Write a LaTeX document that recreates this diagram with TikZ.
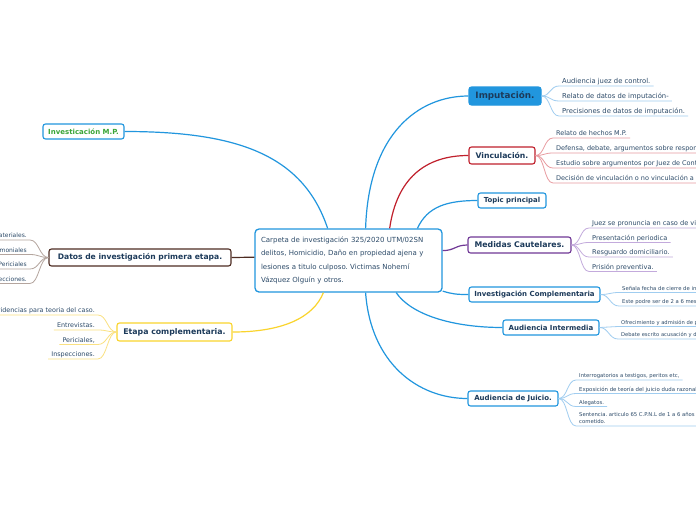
\documentclass[tikz,border=0pt]{standalone}
\usepackage{fontspec}
\setmainfont{DejaVu Sans}
\definecolor{mblue}{RGB}{33,150,222}
\definecolor{lblue}{RGB}{160,205,240}
\definecolor{mred}{RGB}{192,32,44}
\definecolor{lred}{RGB}{232,155,160}
\definecolor{mpurple}{RGB}{112,56,150}
\definecolor{lpurple}{RGB}{195,170,220}
\definecolor{mbrown}{RGB}{78,44,34}
\definecolor{lbrown}{RGB}{180,165,158}
\definecolor{myellow}{RGB}{250,212,45}
\definecolor{lyellow}{RGB}{250,225,130}
\definecolor{mgreen}{RGB}{58,165,55}
\definecolor{navy}{RGB}{28,58,90}
\definecolor{leaftext}{RGB}{45,75,105}
\newcommand\fsz[1]{\fontsize{#1}{#1}\selectfont}
\tikzset{
  topicbox/.style={draw=mblue, rounded corners=2.5pt, line width=1.1pt, fill=white,
    text=navy, inner sep=0pt, align=center},
  maincon/.style={line width=1.2pt},
  leafnode/.style={anchor=south west, inner xsep=3pt, inner ysep=1pt, text depth=1.3pt, text=leaftext},
  leafnodeL/.style={leafnode, anchor=south east},
  leafcon/.style={line width=0.8pt},
}
% name, parent, colour, x, y, text
\newcommand\leafR[6]{%
  \node[leafnode] (#1) at (#4,#5) {#6};
  \draw[leafcon,#3] (#2.east) .. controls +(9,0) and +(-9,0) .. (#1.south west) -- (#1.south east);}
\newcommand\leafL[6]{%
  \node[leafnodeL] (#1) at (#4,#5) {#6};
  \draw[leafcon,#3] (#2.west) .. controls +(-9,0) and +(9,0) .. (#1.south east) -- (#1.south west);}
\frenchspacing
\begin{document}
\frenchspacing
\begin{tikzpicture}[x=1pt,y=-1pt]
\useasboundingbox (0,0) rectangle (696,520);
\clip (0,0) rectangle (696,520);
\fill[white] (0,0) rectangle (696,520);

% central node
\node[draw=mblue, line width=1.3pt, rounded corners=4pt, fill=white,
  minimum width=187pt, minimum height=63pt, text width=175pt, inner xsep=6pt,
  align=left, text=leaftext, font=\fontsize{7}{13.5}\selectfont] (c) at (348.5,260.5)
  {\mbox{Carpeta de investigación 325/2020 UTM/02SN}\\
   \mbox{delitos, Homicidio, Daño en propiedad ajena y}\\
   \mbox{lesiones a titulo culposo. Victimas Nohemí}\\
   \mbox{Vázquez Olguín y otros.}};

% main topics
\node[topicbox, fill=mblue, minimum width=72pt, minimum height=18pt, font=\bfseries\fsz{8.8}] (imp) at (505,96) {Imputación.};
\node[topicbox, draw=mred, minimum width=66pt, minimum height=17pt, font=\bfseries\fsz{7.7}] (vin) at (502,155.5) {Vinculación.};
\node[topicbox, minimum width=68pt, minimum height=15pt, font=\bfseries\fsz{6.9}] (top) at (512,200.5) {Topic principal};
\node[topicbox, draw=mpurple, minimum width=103pt, minimum height=16pt, font=\bfseries\fsz{7.8}] (med) at (519.5,245) {Medidas Cautelares.};
\node[topicbox, minimum width=131pt, minimum height=15pt, font=\bfseries\fsz{7}] (ic) at (534.5,294.5) {Investigación Complementaria};
\node[topicbox, minimum width=96pt, minimum height=15pt, font=\bfseries\fsz{7}] (ai) at (551,327.5) {Audiencia Intermedia};
\node[topicbox, minimum width=90pt, minimum height=15pt, font=\bfseries\fsz{7}] (aj) at (513,398.5) {Audiencia de Juicio.};
\node[topicbox, text=mgreen, minimum width=81pt, minimum height=15pt, font=\bfseries\fsz{7}] (mp) at (83.5,131.5) {Investicación M.P.};
\node[topicbox, draw=mbrown, minimum width=182pt, minimum height=17pt, font=\bfseries\fsz{7.6}] (dat) at (140,257.5) {Datos de investigación primera etapa.};
\node[topicbox, draw=myellow, minimum width=115pt, minimum height=18pt, font=\bfseries\fsz{7.8}] (eta) at (174.5,332) {Etapa complementaria.};

% main connectors
\draw[maincon, mblue] (c.62.35) .. controls +(3,-95) and +(-50,0) .. (imp.west);
\draw[maincon, mred] (c.38.6) .. controls +(7,-49) and +(-44,0) .. (vin.west);
\draw[maincon, mblue] (c.25.7) .. controls +(10,-22) and +(-30,0) .. (top.west);
\draw[maincon, mpurple] (c.6.4) .. controls +(12,0) and +(-12,0) .. (med.west);
\draw[maincon, mblue] (c.-18) .. controls +(10,3) and +(-12,0) .. (ic.west);
\draw[maincon, mblue] (c.-34.1) .. controls +(15,22) and +(-50,0) .. (ai.west);
\draw[maincon, mblue] (c.-62.35) .. controls +(5,70) and +(-50,0) .. (aj.west);
\draw[maincon, mblue] (c.123.1) .. controls +(-25,-75) and +(110,0) .. (mp.east);
\draw[maincon, mbrown] (c.178.2) -- (dat.east);
\draw[maincon, myellow] (c.232.1) .. controls +(-10,25) and +(50,0) .. (eta.east);

% Imputacion leaves
\leafR{i1}{imp}{lblue}{559}{86}{\fsz{6.8}Audiencia juez de control.}
\leafR{i2}{imp}{lblue}{559}{101}{\fsz{6.8}Relato de datos de imputación-}
\leafR{i3}{imp}{lblue}{559}{116}{\fsz{6.8}Precisiones de datos de imputación.}

% Vinculacion leaves
\leafR{v1}{vin}{lred}{553}{138}{\fsz{6.5}Relato de hechos M.P.}
\leafR{v2}{vin}{lred}{553}{153}{\fsz{6.5}Defensa, debate, argumentos sobre responsabilidad.}
\leafR{v3}{vin}{lred}{553}{168}{\fsz{6.5}Estudio sobre argumentos por Juez de Control.}
\leafR{v4}{vin}{lred}{553}{183}{\fsz{6.5}Decisión de vinculación o no vinculación a proceso.}

% Medidas leaves
\leafR{m1}{med}{lpurple}{589}{228}{\fsz{6.6}Juez se pronuncia en caso de vinculación.}
\leafR{m2}{med}{lpurple}{589}{242.5}{\fsz{6.6}Presentación periodica}
\leafR{m3}{med}{lpurple}{589}{257}{\fsz{6.6}Resguardo domiciliario.}
\leafR{m4}{med}{lpurple}{589}{271.5}{\fsz{6.6}Prisión preventiva.}

% Investigacion complementaria leaves
\leafR{c1}{ic}{lblue}{619}{292.5}{\fsz{5.3}Señala fecha de cierre de investigación.}
\leafR{c2}{ic}{lblue}{619}{306}{\fsz{5.3}Este podre ser de 2 a 6 meses.}

% Audiencia intermedia leaves
\leafR{a1}{ai}{lblue}{618}{326.5}{\fsz{5.2}Ofrecimiento y admisión de pruebas.}
\leafR{a2}{ai}{lblue}{618}{339}{\fsz{5.2}Debate escrito acusación y defensa.}

% Audiencia de juicio leaves
\leafR{j1}{aj}{lblue}{576}{380}{\fsz{5.3}Interrogatorios a testigos, peritos etc,}
\leafR{j2}{aj}{lblue}{576}{393.5}{\fsz{5.4}Exposición de teoría del juicio duda razonable.}
\leafR{j3}{aj}{lblue}{576}{406.5}{\fsz{5.3}Alegatos.}
\node[leafnode, align=left, font=\fontsize{5.3}{7}\selectfont] (j4) at (576,426)
  {Sentencia. articulo 65 C.P.N.L de 1 a 6 años\\cometido.};
\draw[leafcon,lblue] (aj.east) .. controls +(9,0) and +(-9,0) .. (j4.south west) -- (j4.south east);

% Datos leaves
\leafL{d1}{dat}{lbrown}{30}{240}{\fsz{6}Materiales.}
\leafL{d2}{dat}{lbrown}{30}{254.5}{\fsz{6}Testimoniales}
\leafL{d3}{dat}{lbrown}{30}{269}{\fsz{6}Periciales}
\leafL{d4}{dat}{lbrown}{30}{283.5}{\fsz{6}Inspecciones.}

% Etapa complementaria leaves
\leafL{e1}{eta}{lyellow}{98}{315}{\fsz{6.4}Evidencias para teoria del caso.}
\leafL{e2}{eta}{lyellow}{98}{330}{\fsz{6.4}Entrevistas.}
\leafL{e3}{eta}{lyellow}{98}{344.5}{\fsz{6.4}Periciales,}
\leafL{e4}{eta}{lyellow}{98}{359}{\fsz{6.4}Inspecciones.}
\end{tikzpicture}
\end{document}
